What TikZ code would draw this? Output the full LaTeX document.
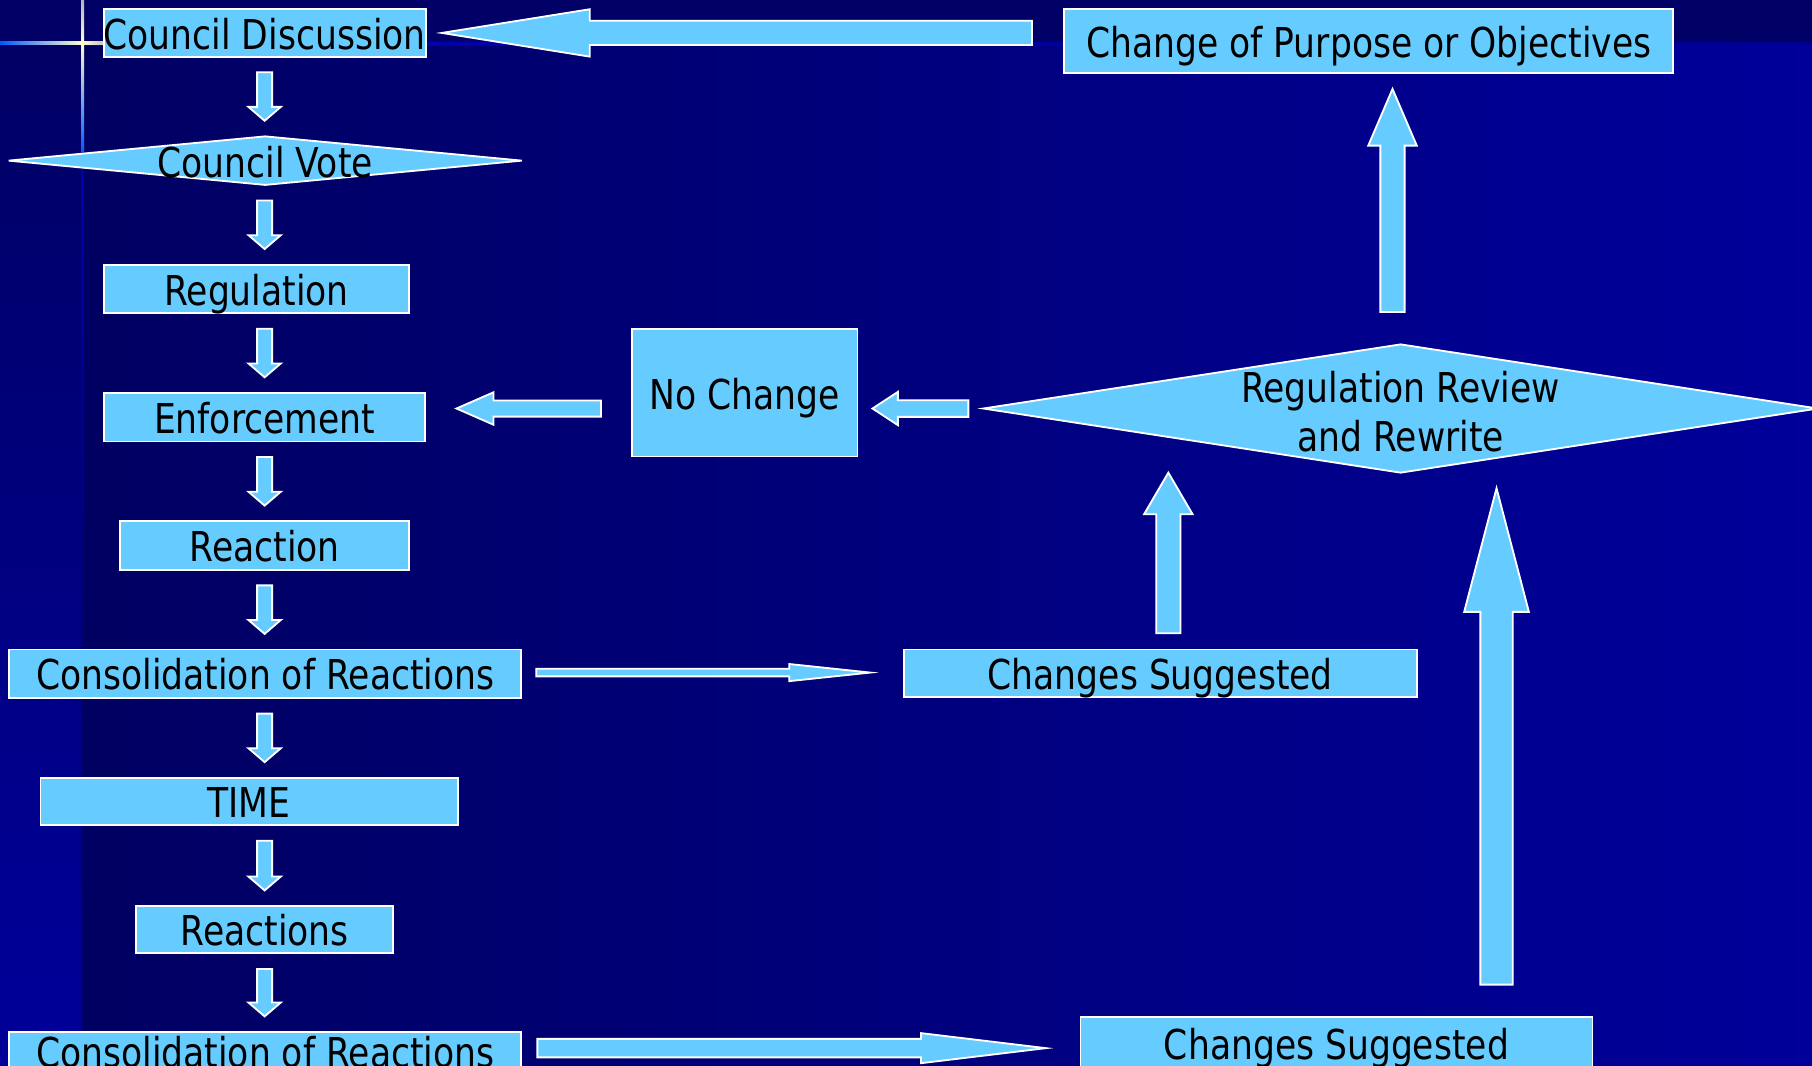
\documentclass[tikz,border=0pt]{standalone}
\usepackage{fontspec}
\setmainfont{DejaVu Sans}[FakeStretch=0.84]
\usetikzlibrary{calc,shapes.geometric}
\definecolor{boxblue}{HTML}{66CCFF}
\definecolor{bgdark}{HTML}{000062}
\definecolor{bgblue}{HTML}{00009A}
\definecolor{band}{HTML}{000066}
\definecolor{lineblue}{HTML}{0000B4}
\definecolor{flare}{HTML}{FFFFCC}
\definecolor{flareblue}{HTML}{0058FF}
\newcommand\fs{\fontsize{17.8pt}{21pt}\selectfont}
\newcommand\blkarrow[5]{%
  \coordinate (hb) at ($(#2)!#5!(#1)$);
  \draw[blk] ($(#1)!#3!90:(#2)$) -- ($(hb)!#3!90:(#2)$) -- ($(hb)!#4!90:(#2)$) -- (#2)
    -- ($(hb)!#4!-90:(#2)$) -- ($(hb)!#3!-90:(#2)$) -- ($(#1)!#3!-90:(#2)$) -- cycle;}
\begin{document}
\begin{tikzpicture}[x=0.5pt,y=-0.5pt,
  box/.style={draw=white, line width=0.8pt, fill=boxblue, inner sep=0pt, outer sep=0pt,
    text height=14pt, text depth=0pt, font=\fs, text=black},
  dia/.style={diamond, draw=white, line width=0.8pt, fill=boxblue, inner sep=0pt, outer sep=0pt},
  lbl/.style={inner sep=0pt, text height=14pt, text depth=0pt, font=\fs, text=black},
  blk/.style={draw=white, line width=0.8pt, fill=boxblue}]
\path[use as bounding box] (0,0) rectangle (1568,922);
\clip (0,0) rectangle (1568,922);
% background
\shade[left color=bgdark, right color=bgblue] (71,0) rectangle (1568,922);
\shade[top color=bgdark, bottom color=bgblue] (0,0) rectangle (71,922);
\fill[band] (0,0) rectangle (1568,39);
\shade[left color=lineblue, right color=bgblue!80!band] (71,37) rectangle (1568,39.5);
\shade[left color=flareblue, right color=flare] (0,35.8) rectangle (71,38.6);
\shade[left color=flare, right color=flare!70!lineblue] (71,35.8) rectangle (95,38.6);
\shade[top color=flare!70!lineblue, bottom color=flare] (70.3,0) rectangle (72.7,37);
\shade[top color=flare, bottom color=flareblue] (70.3,37) rectangle (72.7,132);
\shade[top color=lineblue, bottom color=bgdark] (70.5,132) rectangle (72.5,620);

% left column
\node[box, minimum width=139pt, minimum height=20.5pt] (cd) at (229,28.5) {Council Discussion};
\node[dia, minimum width=222pt, minimum height=21pt] (cv) at (229.5,139) {};
\node[lbl] (cvt) at (229.5,140) {Council Vote};
\node[box, minimum width=132pt, minimum height=21pt] (reg) at (222,250) {Regulation};
\node[box, minimum width=139pt, minimum height=21pt] (enf) at (229,361) {Enforcement};
\node[box, minimum width=125pt, minimum height=21pt] (rea) at (229,472) {Reaction};
\node[box, minimum width=221.5pt, minimum height=21pt] (con1) at (229.5,583) {Consolidation of Reactions};
\node[box, minimum width=180.5pt, minimum height=20.5pt] (time) at (215.5,693.5) {TIME};
\node[box, minimum width=111pt, minimum height=20.5pt] (reas) at (229,804.5) {Reactions};
\node[box, minimum width=221.5pt, minimum height=17pt] (con2) at (229.5,910) {Consolidation of Reactions};

% right side
\node[box, minimum width=263.5pt, minimum height=27.5pt] (cop) at (1184.5,35.5) {Change of Purpose or Objectives};
\node[box, minimum width=97.5pt, minimum height=55pt] (nc) at (644.5,340) {No Change};
\node[dia, minimum width=361pt, minimum height=55.5pt] (rr) at (1212,353.5) {};
\node[font=\fs, align=center, inner sep=0pt, text=black] (rrt) at (1212,356) {Regulation Review\\and Rewrite};
\node[box, minimum width=222pt, minimum height=20.5pt] (cs1) at (1004,582.5) {Changes Suggested};
\node[box, minimum width=221.5pt, minimum height=23pt] (cs2) at (1156.5,903) {Changes Suggested};

% small down arrows
\coordinate (col) at (229,0);
\foreach \a/\b [count=\i] in {cd/cv, cv/reg, reg/enf, enf/rea, rea/con1, con1/time, time/reas, reas/con2} {
  \coordinate (s\i) at ($(col |- \a.south)+(0,-6.75pt)$);
  \coordinate (e\i) at ($(col |- \b.north)+(0,6.75pt)$);
  \blkarrow{s\i}{e\i}{3.25pt}{7pt}{6pt}
}

% block arrows
\coordinate (a1s) at ($(cop.west |- cd.east)+(-14pt,0)$);
\coordinate (a1e) at ($(cd.east)+(7pt,0)$);
\blkarrow{a1s}{a1e}{5.25pt}{10.25pt}{64pt}

\coordinate (a2s) at ($(rr.north)+(-3.5pt,14pt)$);
\coordinate (a2e) at ($(a2s |- cop.south)+(0,-7pt)$);
\blkarrow{a2s}{a2e}{5.25pt}{10.5pt}{24.5pt}

\coordinate (a3s) at ($(nc.west |- rr.center)+(-13.5pt,0)$);
\coordinate (a3e) at ($(enf.east |- rr.center)+(13.5pt,0)$);
\blkarrow{a3s}{a3e}{3.5pt}{7pt}{16pt}

\coordinate (a4s) at ($(rr.west)+(-6.5pt,0)$);
\coordinate (a4e) at ($(nc.east |- rr.west)+(6.5pt,0)$);
\blkarrow{a4s}{a4e}{3.6pt}{7.2pt}{11pt}

\coordinate (a5s) at ($(con1.east)+(6.5pt,0.5pt)$);
\coordinate (a5e) at ($(cs1.west |- a5s)+(-14.5pt,0)$);
\blkarrow{a5s}{a5e}{1.65pt}{3.7pt}{35pt}

\coordinate (a6s) at ($(cs1.north)+(3.5pt,7pt)$);
\coordinate (a6e) at (a6s |- rr.south);
\blkarrow{a6s}{a6e}{5.25pt}{10.5pt}{18pt}

\coordinate (a7s) at ($(cs2.north)+(69.25pt,14pt)$);
\coordinate (a7e) at ($(a7s |- rr.south)+(0,-6.75pt)$);
\blkarrow{a7s}{a7e}{7pt}{14pt}{53.5pt}

\coordinate (a8s) at ($(con2.east)+(7pt,1.5pt)$);
\coordinate (a8e) at ($(cs2.west |- a8s)+(-15pt,0)$);
\blkarrow{a8s}{a8e}{4pt}{6.5pt}{54pt}
\end{tikzpicture}
\end{document}
